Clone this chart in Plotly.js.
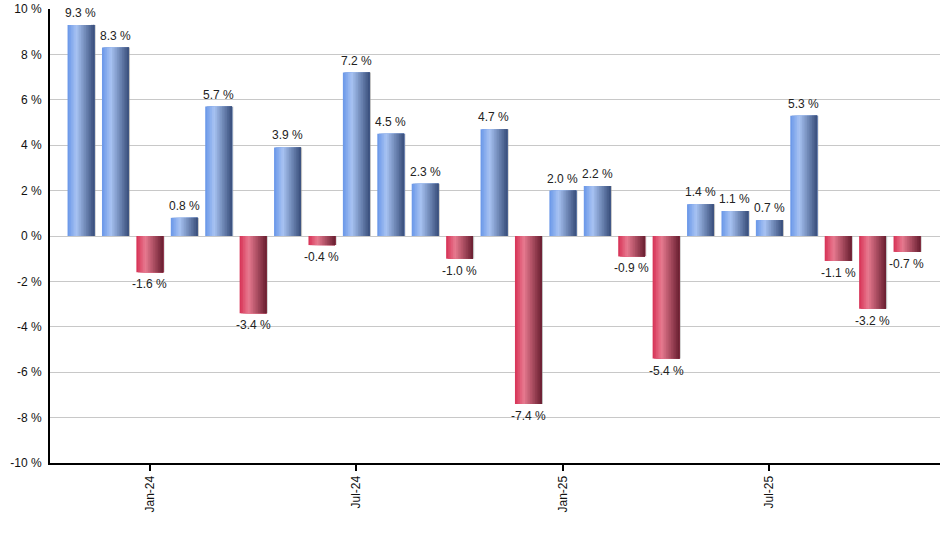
<!DOCTYPE html>
<html>
<head>
<meta charset="utf-8">
<script src="https://cdn.plot.ly/plotly-3.0.1.min.js"></script>
<style>html,body{margin:0;padding:0;background:#fff;}#chart{width:940px;height:550px;}</style>
</head>
<body>
<div id="chart"></div>
<script>
// Monthly returns, Nov-23 .. Nov-25
var months = ["Nov-23","Dec-23","Jan-24","Feb-24","Mar-24","Apr-24","May-24","Jun-24","Jul-24","Aug-24","Sep-24","Oct-24","Nov-24","Dec-24","Jan-25","Feb-25","Mar-25","Apr-25","May-25","Jun-25","Jul-25","Aug-25","Sep-25","Oct-25","Nov-25"];
var returns = [9.3, 8.3, -1.6, 0.8, 5.7, -3.4, 3.9, -0.4, 7.2, 4.5, 2.3, -1.0, 4.7, -7.4, 2.0, 2.2, -0.9, -5.4, 1.4, 1.1, 0.7, 5.3, -1.1, -3.2, -0.7];
var tickLabels = ["Jan-24","Jul-24","Jan-25","Jul-25"];
var yTickVals = [-10, -8, -6, -4, -2, 0, 2, 4, 6, 8, 10];
var yTickText = ["-10 %","-8 %","-6 %","-4 %","-2 %","0 %","2 %","4 %","6 %","8 %","10 %"];

var xIdx = months.map(function(_, i){ return i; });
var tickIdx = tickLabels.map(function(t){ return months.indexOf(t); });
var labels = returns.map(function(v){ return v.toFixed(1) + " %"; });

var BW = 0.78;       // bar width in category units
var N = 16;          // gradient slices
var blueStops = [[0,[104,150,232]],[0.33,[168,195,243]],[1,[56,78,122]]];
var redStops  = [[0,[214,48,84]],[0.33,[232,122,144]],[1,[104,30,48]]];

function lerpStops(stops, t){
  for(var i=0;i<stops.length-1;i++){
    var a=stops[i], b=stops[i+1];
    if(t<=b[0]){
      var u=(t-a[0])/(b[0]-a[0]);
      var c=a[1].map(function(v,k){return Math.round(v+(b[1][k]-v)*u);});
      return "rgb("+c.join(",")+")";
    }
  }
  var l=stops[stops.length-1][1];
  return "rgb("+l.join(",")+")";
}

var traces = [];
// shadow
traces.push({
  type:"bar", x:xIdx, y:returns, width:BW, offset:-BW/2 + 0.035,
  marker:{color:"rgba(150,150,150,0.6)", line:{width:0}},
  hoverinfo:"skip", showlegend:false
});
for(var k=0;k<N;k++){
  var t=(k+0.5)/N;
  var bc=lerpStops(blueStops,t), rc=lerpStops(redStops,t);
  traces.push({
    type:"bar", x:xIdx, y:returns,
    width: BW - k*BW/N,
    offset: -BW/2 + k*BW/N,
    marker:{color: returns.map(function(v){return v>=0?bc:rc;}), line:{width:0}},
    hoverinfo:"skip", showlegend:false
  });
}

// value labels as annotations anchored to each bar's end
var annotations = returns.map(function(v, i){
  return {
    x: xIdx[i], y: v, xref:"x", yref:"y", text: labels[i], showarrow:false,
    yanchor: v >= 0 ? "bottom" : "top", yshift: v >= 0 ? 3 : -3,
    font:{family:"Liberation Sans, Arial, sans-serif", size:12, color:"#222"}
  };
});

var layout = {
  width:940, height:550,
  margin:{l:50, r:0, t:9, b:87, pad:0},
  paper_bgcolor:"#fff", plot_bgcolor:"#fff",
  barmode:"overlay",
  font:{family:"Liberation Sans, Arial, sans-serif", size:12, color:"#111"},
  showlegend:false,
  annotations: annotations,
  xaxis:{
    range:[-0.9, 24.96], tickmode:"array", tickvals:tickIdx, ticktext:tickLabels,
    tickangle:-90, ticks:"outside", ticklen:6, tickwidth:2, tickcolor:"#000",
    showgrid:false, zeroline:false, showline:true, linecolor:"#000", linewidth:2,
    fixedrange:true
  },
  yaxis:{
    range:[-10,10], tickmode:"array", tickvals:yTickVals, ticktext:yTickText,
    showgrid:true, gridcolor:"#c8c8c8", gridwidth:1,
    zeroline:false, showline:true, linecolor:"#000", linewidth:2,
    ticks:"", ticklabelstandoff:4, fixedrange:true
  }
};

Plotly.newPlot("chart", traces, layout, {displayModeBar:false, staticPlot:true});
</script>
</body>
</html>
